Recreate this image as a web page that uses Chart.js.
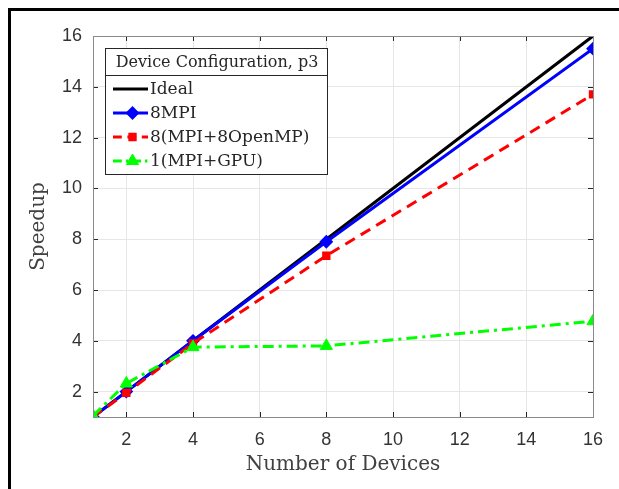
<!DOCTYPE html>
<html>
<head>
<meta charset="utf-8">
<script src="https://cdn.jsdelivr.net/npm/chart.js@4.4.1/dist/chart.umd.min.js"></script>
<style>
  html, body { margin: 0; padding: 0; background: #fff; }
  #wrap { width: 619px; height: 489px; position: relative; }
</style>
</head>
<body>
<div id="wrap"><canvas id="speedupChart"></canvas></div>
<script>
  // Number of devices and measured speedups
  var devices = [1, 2, 4, 8, 16];
  var ideal = [1, 2, 4, 8, 16];
  var mpi8 = [1, 2.0, 4.0, 7.9, 15.5];
  var mpiOmp = [1, 1.95, 3.9, 7.35, 13.7];
  var mpiGpu = [1.05, 2.32, 3.75, 3.8, 4.77];

  var xTicks = [2, 4, 6, 8, 10, 12, 14, 16];
  var yTicks = [2, 4, 6, 8, 10, 12, 14, 16];

  var legendTitle = "Device Configuration, p3";
  var seriesNames = ["Ideal", "8MPI", "8(MPI+8OpenMP)", "1(MPI+GPU)"];

  function points(ys) {
    return devices.map(function (x, i) { return { x: x, y: ys[i] }; });
  }

  var SERIF = "'DejaVu Serif', 'Liberation Serif', serif";
  var SANS = "'Liberation Sans', Arial, sans-serif";

  // outer figure frame (top and left edges) plus plot box with inner ticks
  var framePlugin = {
    id: "frame",
    beforeDraw: function (chart) {
      var ctx = chart.ctx;
      ctx.save();
      ctx.strokeStyle = "#000";
      ctx.lineWidth = 3;
      ctx.beginPath();
      ctx.moveTo(619, 9.5);
      ctx.lineTo(9.5, 9.5);
      ctx.lineTo(9.5, 489);
      ctx.stroke();
      ctx.restore();
    },
    afterDatasetsDraw: function (chart) {
      var ctx = chart.ctx, a = chart.chartArea;
      var xs = chart.scales.x, ys = chart.scales.y;
      ctx.save();
      ctx.strokeStyle = "#262626";
      ctx.lineWidth = 1;
      ctx.beginPath();
      xTicks.forEach(function (v) {
        var px = Math.round(xs.getPixelForValue(v)) + 0.5;
        ctx.moveTo(px, a.bottom); ctx.lineTo(px, a.bottom - 5);
        ctx.moveTo(px, a.top); ctx.lineTo(px, a.top + 5);
      });
      yTicks.forEach(function (v) {
        var py = Math.round(ys.getPixelForValue(v)) + 0.5;
        ctx.moveTo(a.left, py); ctx.lineTo(a.left + 5, py);
        ctx.moveTo(a.right, py); ctx.lineTo(a.right - 5, py);
      });
      ctx.stroke();
      ctx.strokeStyle = "#8a8a8a";
      ctx.strokeRect(Math.round(a.left) + 0.5, Math.round(a.top) + 0.5,
        Math.round(a.right - a.left), Math.round(a.bottom - a.top));
      ctx.restore();
    }
  };

  // boxed legend with a title row, drawn inside the plot area
  var boxLegendPlugin = {
    id: "boxLegend",
    afterDraw: function (chart) {
      var ctx = chart.ctx;
      var bx = 105, by = 48, bw = 222, bh = 126, titleH = 27;
      ctx.save();
      ctx.fillStyle = "#fff";
      ctx.fillRect(bx, by, bw, bh);
      ctx.strokeStyle = "#262626";
      ctx.lineWidth = 1;
      ctx.strokeRect(bx + 0.5, by + 0.5, bw, bh);
      ctx.beginPath();
      ctx.moveTo(bx, by + titleH + 0.5);
      ctx.lineTo(bx + bw, by + titleH + 0.5);
      ctx.stroke();

      ctx.fillStyle = "#262626";
      ctx.font = "16px " + SERIF;
      ctx.textAlign = "center";
      ctx.textBaseline = "middle";
      ctx.fillText(legendTitle, bx + bw / 2 + 1, by + titleH / 2 + 1);

      var ds = chart.data.datasets;
      ctx.textAlign = "left";
      for (var i = 0; i < ds.length; i++) {
        var d = ds[i];
        var y = by + 41 + i * 24;
        var x0 = bx + 8, x1 = bx + 43;
        ctx.strokeStyle = d.borderColor;
        ctx.lineWidth = d.borderWidth;
        ctx.setLineDash(d.borderDash ? d.borderDash.map(function (v) { return v * 0.8; }) : []);
        ctx.beginPath();
        ctx.moveTo(x0, y);
        ctx.lineTo(x1, y);
        ctx.stroke();
        ctx.setLineDash([]);
        if (d.pointRadius > 0) {
          ctx.fillStyle = d.pointBackgroundColor;
          ctx.strokeStyle = d.borderColor;
          ctx.lineWidth = d.pointBorderWidth;
          Chart.helpers.drawPoint(ctx, {
            pointStyle: d.pointStyle,
            radius: d.pointRadius,
            borderWidth: d.pointBorderWidth,
            rotation: 0
          }, (x0 + x1) / 2 + 2, y);
        }
        ctx.fillStyle = "#262626";
        ctx.font = "17px " + SERIF;
        ctx.fillText(seriesNames[i], x1 + 2, y + 1);
      }
      ctx.restore();
    }
  };

  var ctx = document.getElementById("speedupChart").getContext("2d");

  new Chart(ctx, {
    type: "line",
    data: {
      datasets: [
        {
          label: seriesNames[0],
          data: points(ideal),
          borderColor: "#000000",
          backgroundColor: "#000000",
          borderWidth: 3,
          pointRadius: 0,
          order: 4
        },
        {
          label: seriesNames[1],
          data: points(mpi8),
          borderColor: "#0000ff",
          backgroundColor: "#0000ff",
          pointBackgroundColor: "#0000ff",
          borderWidth: 3,
          pointStyle: "rectRot",
          pointRadius: 5.5,
          pointBorderWidth: 2,
          order: 3
        },
        {
          label: seriesNames[2],
          data: points(mpiOmp),
          borderColor: "#ff0000",
          backgroundColor: "#ff0000",
          pointBackgroundColor: "#ff0000",
          borderWidth: 3,
          borderDash: [11, 7],
          pointStyle: "rect",
          pointRadius: 4.5,
          pointBorderWidth: 2,
          order: 2
        },
        {
          label: seriesNames[3],
          data: points(mpiGpu),
          borderColor: "#00ff00",
          backgroundColor: "#00ff00",
          pointBackgroundColor: "#00ff00",
          borderWidth: 3,
          borderDash: [11, 5, 3, 5],
          pointStyle: "triangle",
          pointRadius: 7,
          pointBorderWidth: 1,
          order: 1
        }
      ]
    },
    options: {
      responsive: true,
      maintainAspectRatio: false,
      animation: false,
      layout: { padding: { left: 10, right: 26, top: 36, bottom: 0 } },
      plugins: {
        legend: { display: false },
        tooltip: { enabled: false }
      },
      scales: {
        x: {
          type: "linear",
          min: 1,
          max: 16,
          afterBuildTicks: function (scale) {
            scale.ticks = xTicks.map(function (v) { return { value: v }; });
          },
          afterFit: function (scale) { scale.height = 72; },
          grid: { color: "#e6e6e6", lineWidth: 1, drawTicks: false },
          border: { display: false },
          ticks: {
            color: "#333333",
            padding: 12,
            font: { family: SANS, size: 18 }
          },
          title: {
            display: true,
            text: "Number of Devices",
            color: "#404040",
            padding: { top: 0, bottom: 12 },
            font: { family: SERIF, size: 20 }
          }
        },
        y: {
          type: "linear",
          min: 1,
          max: 16,
          afterBuildTicks: function (scale) {
            scale.ticks = yTicks.map(function (v) { return { value: v }; });
          },
          afterFit: function (scale) { scale.width = 83; },
          grid: { color: "#e6e6e6", lineWidth: 1, drawTicks: false },
          border: { display: false },
          ticks: {
            color: "#333333",
            padding: 11,
            font: { family: SANS, size: 18 }
          },
          title: {
            display: true,
            text: "Speedup",
            color: "#404040",
            padding: { top: 17, bottom: 0 },
            font: { family: SERIF, size: 20 }
          }
        }
      }
    },
    plugins: [framePlugin, boxLegendPlugin]
  });
</script>
</body>
</html>
